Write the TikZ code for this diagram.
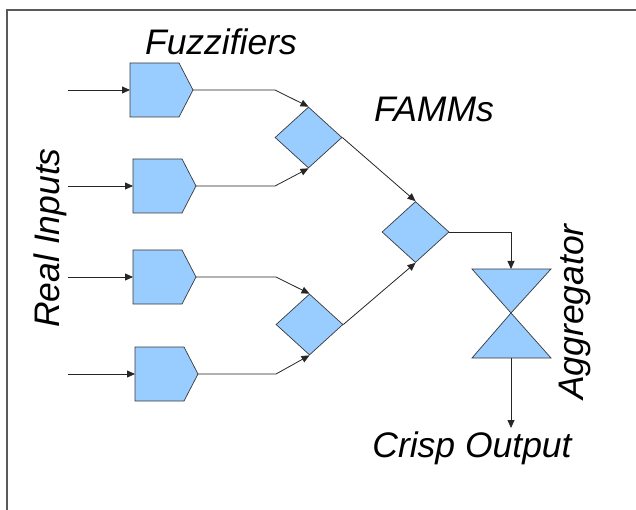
\documentclass[tikz,border=0pt]{standalone}
\usepackage{fontspec}
\setmainfont{Liberation Sans}
\usetikzlibrary{arrows.meta,shapes.geometric,calc}
\definecolor{blockfill}{HTML}{99CCFF}
\definecolor{blockline}{HTML}{3A3A3A}
\definecolor{frameline}{HTML}{5A5A5A}
\begin{document}
\begin{tikzpicture}[x=1pt,y=-1pt,
  blockshape/.style={fill=blockfill,draw=blockline,line width=0.7pt,line join=miter},
  famm/.style={shape=diamond,fill=blockfill,draw=blockline,line width=0.7pt,
    minimum width=67pt,minimum height=61pt,inner sep=0pt},
  conn/.style={draw=black!85,line width=0.8pt,-{Triangle[length=8pt,width=7pt]}},
  lbl/.style={font=\fontsize{35.5}{42}\selectfont\itshape,inner sep=0pt,anchor=base}]
\useasboundingbox (0,0) rectangle (636,510);
% page frame
\draw[frameline,line width=1.4pt] (7,510) -- (7,10) -- (636,10);

% fuzzifiers: pentagon blocks pointing right
\foreach \i/\x/\y in {1/130/90,2/133/186,3/133/277,4/135/374}{
  \coordinate (in\i) at (\x,\y);
  \coordinate (out\i) at (\x+63,\y);
  \coordinate (src\i) at (68,\y);
  \draw[blockshape] (in\i) -- ++(0,-27) -- ++(49,0) -- (out\i) -- ++(-14,27) -- ++(-49,0) -- cycle;
  \draw[conn] (src\i) -- (in\i);
}

% FAMMs
\node[famm] (m1) at (308.5,137.5) {};
\node[famm] (m2) at (309.5,324.5) {};
\node[famm] (m3) at (415.5,232) {};

% aggregator (hourglass)
\coordinate (agg) at (511,313);
\coordinate (aggN) at (511,269);
\coordinate (aggS) at (511,358);
\coordinate (crisp) at (511,428);
\draw[blockshape] (472,269) -- (551,269) -- (agg) -- cycle;
\draw[blockshape] (agg) -- (551,358) -- (472,358) -- cycle;

% connectors
\draw[conn] (out1) -- ++(82,0) -- (m1.north);
\draw[conn] (out2) -- ++(79,0) -- (m1.south);
\draw[conn] (out3) -- ++(80,0) -- (m2.north);
\draw[conn] (out4) -- ++(78,0) -- (m2.south);
\draw[conn] (m1.east) -- (m3.north);
\draw[conn] (m2.east) -- (m3.south);
\draw[conn] (m3.east) -| (aggN);
\draw[conn] (aggS) -- (crisp);

% labels
\node[lbl] (tfuzz) at (221,55) {Fuzzifiers};
\node[lbl] (tfamm) at (434,122) {FAMMs};
\node[lbl,rotate=90] (tin) at (59,238) {Real Inputs};
\node[lbl,rotate=90] (tagg) at (583,312) {Aggregator};
\node[lbl] (tout) at (472,457) {Crisp Output};
\end{tikzpicture}
\end{document}
